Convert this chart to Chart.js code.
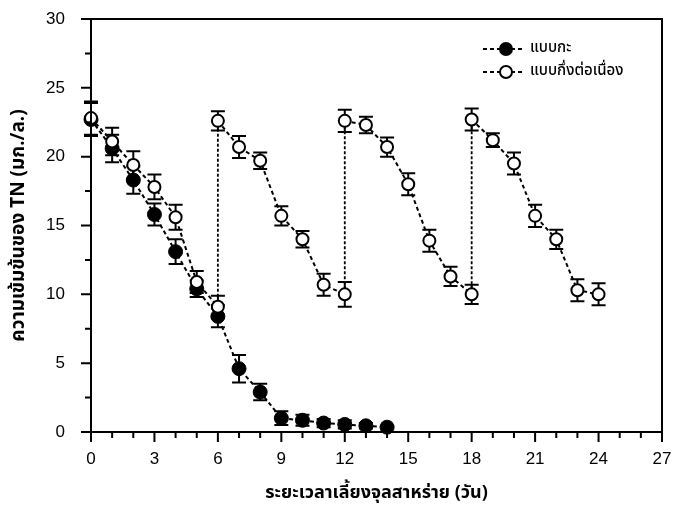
<!DOCTYPE html>
<html>
<head>
<meta charset="utf-8">
<script src="https://cdn.jsdelivr.net/npm/chart.js@4.4.0/dist/chart.umd.min.js"></script>
<style>
html, body { margin: 0; padding: 0; background: #fff; }
#wrap { width: 673px; height: 510px; }
</style>
</head>
<body>
<div id="wrap"><canvas id="chart"></canvas></div>
<script>
// แบบกะ (batch)
const batchDays = [0, 1, 2, 3, 4, 5, 6, 7, 8, 9, 10, 11, 12, 13, 14];
const batchTN   = [22.7, 20.6, 18.3, 15.8, 13.1, 10.4, 8.4, 4.6, 2.9, 1.0, 0.85, 0.65, 0.55, 0.45, 0.35];
const batchErr  = [1.2, 1.0, 1.0, 0.8, 0.9, 0.6, 0.8, 1.0, 0.6, 0.5, 0.4, 0.3, 0.3, 0.2, 0.1];

// แบบกึ่งต่อเนื่อง (semi-continuous), days 6, 12, 18 appear twice (before/after refill)
const semiDays = [0, 1, 2, 3, 4, 5, 6, 6, 7, 8, 9, 10, 11, 12, 12, 13, 14, 15, 16, 17, 18, 18, 19, 20, 21, 22, 23, 24];
const semiTN   = [22.8, 21.1, 19.4, 17.8, 15.6, 10.9, 9.1, 22.6, 20.7, 19.7, 15.7, 14.0, 10.7, 10.0, 22.6, 22.3, 20.7, 18.0, 13.9, 11.3, 10.0, 22.7, 21.2, 19.5, 15.7, 14.0, 10.3, 10.0];
const semiErr  = [1.2, 1.0, 1.0, 0.9, 0.9, 0.8, 0.8, 0.7, 0.8, 0.6, 0.7, 0.6, 0.8, 0.9, 0.8, 0.6, 0.7, 0.8, 0.8, 0.7, 0.7, 0.8, 0.5, 0.8, 0.8, 0.7, 0.8, 0.8];

const xTicks = [0, 3, 6, 9, 12, 15, 18, 21, 24, 27];
const yTicks = [0, 5, 10, 15, 20, 25, 30];

const thaiFont = '"Noto Sans Thai", "Noto Sans", "DejaVu Sans", sans-serif';
const numFont = '"Liberation Sans", Arial, sans-serif';

const toPoints = (xs, ys) => xs.map((x, i) => ({ x, y: ys[i] }));

// error bars under each dataset's markers
const errorBars = {
    id: 'errorBars',
    beforeDatasetDraw(chart, args) {
        const ds = chart.data.datasets[args.index];
        if (!ds.errors) return;
        const yScale = chart.scales.y;
        const ctx = chart.ctx;
        ctx.save();
        ctx.strokeStyle = '#000';
        ctx.lineWidth = 2;
        args.meta.data.forEach((pt, i) => {
            const v = ds.data[i].y, e = ds.errors[i];
            const top = yScale.getPixelForValue(v + e);
            const bot = yScale.getPixelForValue(v - e);
            ctx.beginPath();
            ctx.moveTo(pt.x, top); ctx.lineTo(pt.x, bot);
            ctx.moveTo(pt.x - 7, top); ctx.lineTo(pt.x + 7, top);
            ctx.moveTo(pt.x - 7, bot); ctx.lineTo(pt.x + 7, bot);
            ctx.stroke();
        });
        ctx.restore();
    }
};

// frame + major/minor tick marks + legend
const frameAndLegend = {
    id: 'frameAndLegend',
    afterDraw(chart) {
        const { ctx, chartArea: a, scales: { x, y } } = chart;
        ctx.save();
        ctx.strokeStyle = '#000';
        ctx.lineWidth = 2;
        ctx.strokeRect(a.left, a.top, a.right - a.left, a.bottom - a.top);
        ctx.beginPath();
        for (let v = 0; v <= 27; v++) {
            const px = x.getPixelForValue(v);
            ctx.moveTo(px, a.bottom);
            ctx.lineTo(px, a.bottom + (v % 3 === 0 ? 10 : 6));
        }
        for (let v = 0; v <= 30; v += 2.5) {
            const py = y.getPixelForValue(v);
            ctx.moveTo(a.left, py);
            ctx.lineTo(a.left - (v % 5 === 0 ? 10 : 6), py);
        }
        ctx.stroke();

        // legend
        const order = [1, 0];
        order.forEach((di, row) => {
            const ds = chart.data.datasets[di];
            const ly = 49 + row * 23;
            ctx.lineWidth = 2;
            ctx.setLineDash([4, 3]);
            ctx.beginPath();
            ctx.moveTo(483, ly); ctx.lineTo(524, ly);
            ctx.stroke();
            ctx.setLineDash([]);
            ctx.beginPath();
            ctx.arc(506, ly, 6, 0, Math.PI * 2);
            ctx.fillStyle = ds.pointBackgroundColor;
            ctx.fill();
            ctx.stroke();
            ctx.fillStyle = '#000';
            ctx.font = '500 15px ' + thaiFont;
            ctx.textBaseline = 'middle';
            ctx.textAlign = 'left';
            ctx.fillText(ds.label, 530, ly);
        });
        ctx.restore();
    }
};

const vertical = ctx => ctx.p0.parsed.x === ctx.p1.parsed.x;

new Chart(document.getElementById('chart'), {
    type: 'scatter',
    data: {
        datasets: [
            {
                label: 'แบบกึ่งต่อเนื่อง',
                data: toPoints(semiDays, semiTN),
                errors: semiErr,
                showLine: true,
                clip: false,
                borderColor: '#000',
                borderWidth: 2,
                borderDash: [4, 3],
                segment: {
                    borderDash: c => vertical(c) ? [3, 2] : [4, 3],
                    borderWidth: c => vertical(c) ? 1.8 : 2
                },
                pointRadius: 6,
                pointBackgroundColor: '#fff',
                pointBorderColor: '#000',
                pointBorderWidth: 2,
                order: 0
            },
            {
                label: 'แบบกะ',
                data: toPoints(batchDays, batchTN),
                errors: batchErr,
                showLine: true,
                clip: false,
                borderColor: '#000',
                borderWidth: 2,
                borderDash: [4, 3],
                pointRadius: 7,
                pointBackgroundColor: '#000',
                pointBorderColor: '#000',
                pointBorderWidth: 1,
                order: 1
            }
        ]
    },
    options: {
        responsive: true,
        maintainAspectRatio: false,
        animation: false,
        layout: { padding: { top: 19, right: 11, left: 0, bottom: 0 } },
        plugins: { legend: { display: false }, tooltip: { enabled: false } },
        scales: {
            x: {
                type: 'linear', min: 0, max: 27,
                afterBuildTicks: s => { s.ticks = xTicks.map(v => ({ value: v })); },
                afterFit: s => { s.height = 78; s.paddingLeft = 0; s.paddingRight = 0; },
                grid: { display: false },
                border: { display: true, color: '#000', width: 2 },
                ticks: { color: '#000', padding: 9, maxRotation: 0, autoSkip: false, font: { family: numFont, size: 17 } },
                title: { display: true, text: 'ระยะเวลาเลี้ยงจุลสาหร่าย (วัน)', color: '#000', padding: { bottom: 5 }, font: { family: thaiFont, size: 18, weight: 'bold' } }
            },
            y: {
                min: 0, max: 30,
                afterBuildTicks: s => { s.ticks = yTicks.map(v => ({ value: v })); },
                afterFit: s => { s.width = 91; s.paddingTop = 0; s.paddingBottom = 0; },
                grid: { display: false },
                border: { display: true, color: '#000', width: 2 },
                ticks: { color: '#000', padding: 18, font: { family: numFont, size: 17 } },
                title: { display: true, text: 'ความเข้มข้นของ TN (มก./ล.)', color: '#000', padding: { top: 9 }, font: { family: thaiFont, size: 19, weight: 'bold' } }
            }
        }
    },
    plugins: [errorBars, frameAndLegend]
});
</script>
</body>
</html>
